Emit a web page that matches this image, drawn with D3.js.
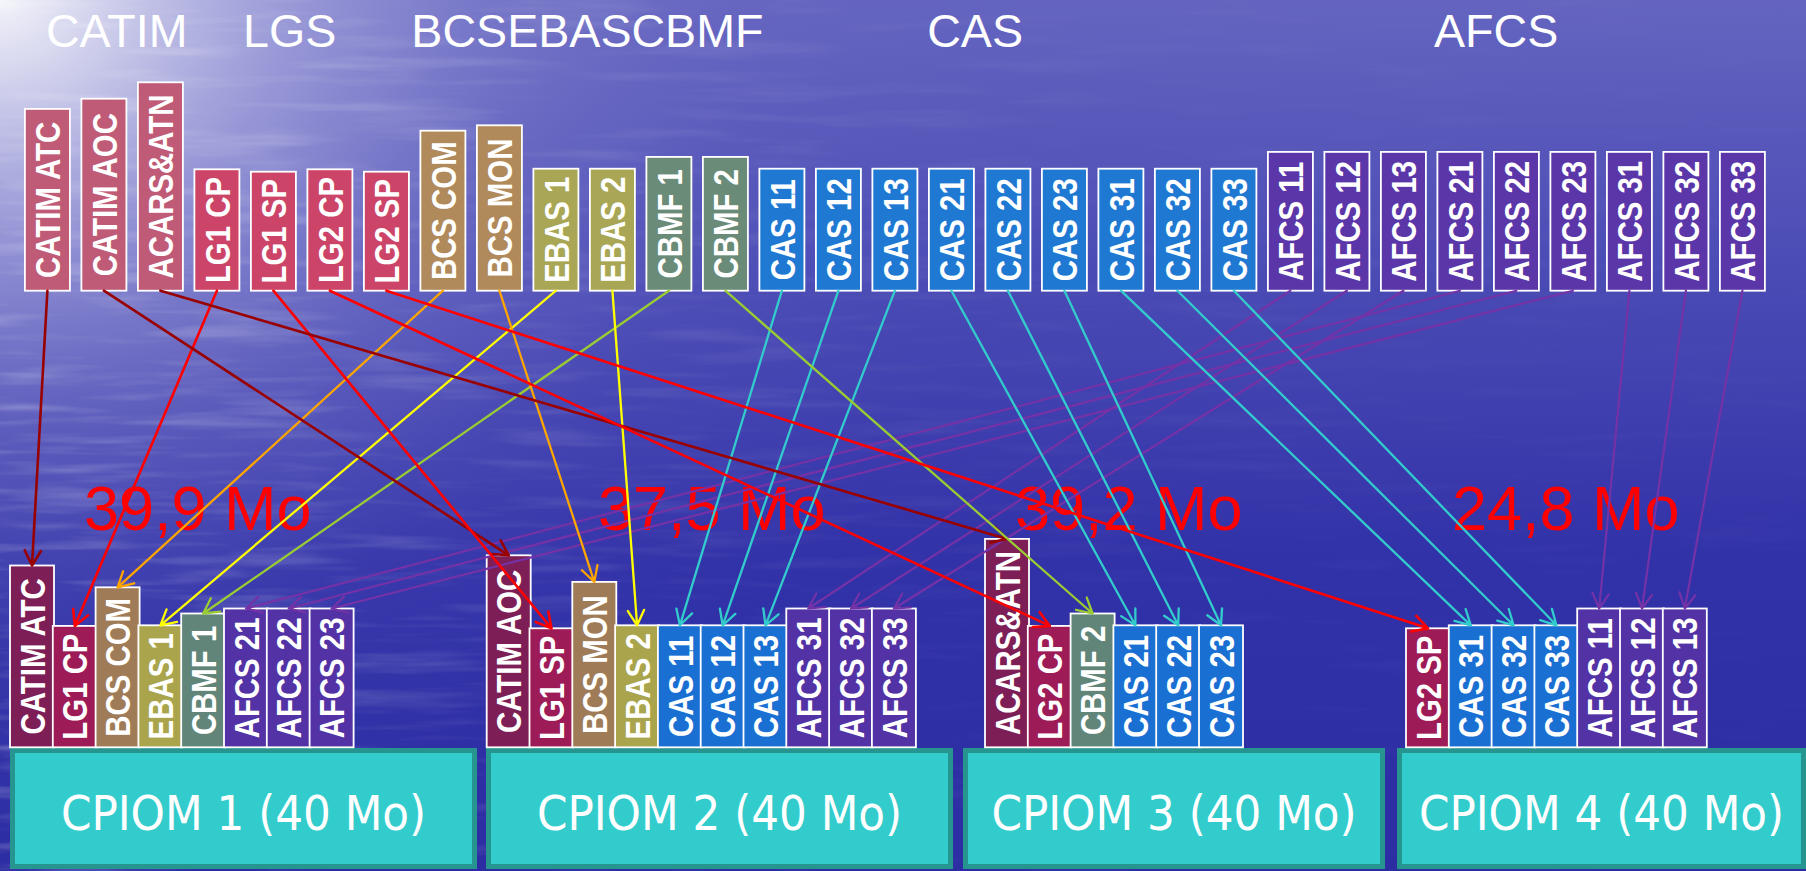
<!DOCTYPE html>
<html><head><meta charset="utf-8">
<script src="https://cdn.jsdelivr.net/npm/d3@7/dist/d3.min.js"></script>
<style>html,body{margin:0;padding:0;background:#2e2ea6;overflow:hidden}</style>
</head><body>
<svg id="c" width="1806" height="871"></svg>
<script>
// ---------------- DATA ----------------
const topBlocks = ["CATIM ATC","CATIM AOC","ACARS&ATN","LG1 CP","LG1 SP","LG2 CP","LG2 SP",
  "BCS COM","BCS MON","EBAS 1","EBAS 2","CBMF 1","CBMF 2",
  "CAS 11","CAS 12","CAS 13","CAS 21","CAS 22","CAS 23","CAS 31","CAS 32","CAS 33",
  "AFCS 11","AFCS 12","AFCS 13","AFCS 21","AFCS 22","AFCS 23","AFCS 31","AFCS 32","AFCS 33"];
const blockGroup = ["catim","catim","catim","lgs","lgs","lgs","lgs","bcs","bcs","ebas","ebas","cbmf","cbmf",
  "cas","cas","cas","cas","cas","cas","cas","cas","cas",
  "afcs","afcs","afcs","afcs","afcs","afcs","afcs","afcs","afcs"];
const blockSize = [9.09,9.6,10.42,6.07,5.95,6.07,5.95,8.0,8.27,6.1,6.1,6.69,6.69,
  6.1,6.1,6.1,6.1,6.1,6.1,6.1,6.1,6.1,
  6.94,6.94,6.94,6.94,6.94,6.94,6.94,6.94,6.94];
const groupTitles = ["CATIM","LGS","BCSEBASCBMF","CAS","AFCS"];
const titleSlot = [0.373, 3.86, 6.84, 15.97, 24.94];
const cpiomNames = ["CPIOM 1 (40 Mo)","CPIOM 2 (40 Mo)","CPIOM 3 (40 Mo)","CPIOM 4 (40 Mo)"];
const cpiomLoad = ["39,9 Mo","37,5 Mo","39,2 Mo","24,8 Mo"];
// blocks as labelled in each CPIOM stack
const cpiomBlocks = [
  ["CATIM ATC","LG1 CP","BCS COM","EBAS 1","CBMF 1","AFCS 21","AFCS 22","AFCS 23"],
  ["CATIM AOC","LG1 SP","BCS MON","EBAS 2","CAS 11","CAS 12","CAS 13","AFCS 31","AFCS 32","AFCS 33"],
  ["ACARS&ATN","LG2 CP","CBMF 2","CAS 21","CAS 22","CAS 23"],
  ["LG2 SP","CAS 31","CAS 32","CAS 33","AFCS 11","AFCS 12","AFCS 13"]
];
// top block each arrow comes from (same order as cpiomBlocks)
const cpiomSources = [
  ["CATIM ATC","LG1 CP","BCS COM","EBAS 1","CBMF 1","AFCS 21","AFCS 22","AFCS 23"],
  ["CATIM AOC","LG1 SP","BCS MON","EBAS 2","CAS 11","CAS 12","CAS 13","AFCS 11","AFCS 12","AFCS 13"],
  ["ACARS&ATN","LG2 CP","CBMF 2","CAS 21","CAS 22","CAS 23"],
  ["LG2 SP","CAS 31","CAS 32","CAS 33","AFCS 31","AFCS 32","AFCS 33"]
];

// ---------------- LAYOUT / STYLE ----------------
const L = {
  topX:[24.9,1764.9], topBase:290.7, hMax:208.4,
  botBase:747.3, slotStep:42.8, slotW:44,
  stackX:[10,486.7,985,1406],
  cpiomX:[[10,477],[486,953],[963,1385],[1397,1806]],
  cpiomTop:748, cpiomBottom:869,
  loadX:[84,598,1015,1452], loadY:530, titleY:46.7
};
const topFill = {catim:"#bf5b77",lgs:"#cc4569",bcs:"#b08a5a",ebas:"#a9a656",cbmf:"#6b8b79",cas:"#1f79d3",afcs:"#5b36a9"};
const botFill = {catim:"#7d1f56",lgs:"#9d1b56",bcs:"#9f7c57",ebas:"#aaa54c",cbmf:"#618579",cas:"#1a6fd3",afcs:"#5232a4"};
const arrowCol = {catim:"#990000",lgs:"#ff0000",bcs:"#ffa500",ebas:"#ffff00",cbmf:"#99cc33",cas:"#33cccc",afcs:"#7432a6"};
const arrowW = {catim:2.6,lgs:2.6,bcs:2.3,ebas:2.3,cbmf:2.3,cas:2.3,afcs:2.2};

const svg = d3.select("#c");
const W = 1806, H = 871;
const defs = svg.append("defs");

// background
const lg = defs.append("linearGradient").attr("id","bgv").attr("x1",0).attr("y1",0).attr("x2",0).attr("y2",1);
[[0,"#6464c0"],[0.3,"#4c4cb6"],[0.65,"#3131a8"],[1,"#2c2ca3"]].forEach(s=>lg.append("stop").attr("offset",s[0]).attr("stop-color",s[1]));
const rg = defs.append("radialGradient").attr("id","glow").attr("gradientUnits","userSpaceOnUse")
  .attr("cx",0).attr("cy",0).attr("r",1050).attr("gradientTransform","scale(1,0.85)");
[[0,"#f6f6fb",0.98],[0.1,"#dedef2",0.88],[0.28,"#b4b4e4",0.65],[0.48,"#9090d4",0.38],[0.72,"#7272c8",0.13],[1,"#6060c0",0]]
  .forEach(s=>rg.append("stop").attr("offset",s[0]).attr("stop-color",s[1]).attr("stop-opacity",s[2]));
const f = defs.append("filter").attr("id","ripple").attr("x",0).attr("y",0).attr("width",1).attr("height",1);
f.append("feTurbulence").attr("type","fractalNoise").attr("baseFrequency","0.006 0.07").attr("numOctaves",3).attr("seed",4);
f.append("feColorMatrix").attr("type","matrix").attr("values","0 0 0 0 1  0 0 0 0 1  0 0 0 0 1  3 0 0 0 -1.45");
const mg = defs.append("linearGradient").attr("id","mg").attr("x1",0).attr("y1",0).attr("x2",1).attr("y2",0);
[[0,"#fff"],[0.3,"#666"],[0.6,"#222"],[1,"#111"]].forEach(s=>mg.append("stop").attr("offset",s[0]).attr("stop-color",s[1]));
defs.append("mask").attr("id","rm").append("rect").attr("width",W).attr("height",H).attr("fill","url(#mg)");
svg.append("rect").attr("width",W).attr("height",H).attr("fill","url(#bgv)");
svg.append("rect").attr("width",W).attr("height",H).attr("fill","url(#glow)");
svg.append("g").attr("mask","url(#rm)").append("rect").attr("width",W).attr("height",H)
  .attr("filter","url(#ripple)").attr("opacity",0.22);

// scales
const x = d3.scaleBand().domain(topBlocks).range(L.topX).paddingInner(0.2035).paddingOuter(0);
const h = d3.scaleLinear().domain([0,d3.max(blockSize)]).range([0,L.hMax]);
const topSlot = d3.scaleLinear().domain([0,1]).range([L.topX[0], L.topX[0]+x.step()]);
const slot = d3.scaleLinear().domain([0,1]).range([0,L.slotStep]);
const sizeOf = new Map(topBlocks.map((b,i)=>[b,blockSize[i]]));
const groupOf = new Map(topBlocks.map((b,i)=>[b,blockGroup[i]]));

const labelFont = "'Liberation Sans', Arial, sans-serif";

// group titles
svg.append("g").selectAll("text").data(groupTitles).join("text")
  .attr("x",(d,i)=>topSlot(titleSlot[i])).attr("y",L.titleY)
  .attr("fill","#fff").attr("font-family",labelFont).attr("font-size",46.6).text(d=>d);

function drawBlock(g, name, x0, w, base, fillMap){
  const hh = h(sizeOf.get(name));
  g.append("rect").attr("x",x0).attr("y",base-hh).attr("width",w).attr("height",hh)
    .attr("fill",fillMap[groupOf.get(name)]).attr("stroke","#fff").attr("stroke-width",1.8);
  g.append("text")
    .attr("transform",`translate(${x0+w/2},${base-hh/2}) rotate(-90) scale(0.84,1)`)
    .attr("text-anchor","middle").attr("dy","0.36em")
    .attr("fill","#fff").attr("font-family",labelFont).attr("font-weight","bold").attr("font-size",35)
    .text(name);
}

// top row
const gTop = svg.append("g");
topBlocks.forEach(b=>drawBlock(gTop,b,x(b),x.bandwidth(),L.topBase,topFill));

// load values
svg.append("g").selectAll("text").data(cpiomLoad).join("text")
  .attr("x",(d,i)=>L.loadX[i]).attr("y",L.loadY)
  .attr("fill","#ff0000").attr("font-family",labelFont).attr("font-size",63).text(d=>d);

// CPIOM boxes
const gC = svg.append("g");
cpiomNames.forEach((n,i)=>{
  const [a,b] = L.cpiomX[i];
  gC.append("rect").attr("x",a+2.5).attr("y",L.cpiomTop+2.5).attr("width",b-a-5).attr("height",L.cpiomBottom-L.cpiomTop-5)
    .attr("fill","#33cccc").attr("stroke","#27958f").attr("stroke-width",5);
  gC.append("text").attr("transform",`translate(${(a+b)/2},830) scale(0.91,1)`)
    .attr("text-anchor","middle").attr("fill","#fff")
    .attr("font-family","'DejaVu Sans', Verdana, sans-serif").attr("font-size",48).text(n);
});

// bottom stacks
const nodes = [];
cpiomBlocks.forEach((arr,i)=>arr.forEach((b,j)=>nodes.push({name:b,src:cpiomSources[i][j],x0:L.stackX[i]+slot(j)})));
const gBot = svg.append("g");
nodes.forEach(nd=>drawBlock(gBot,nd.name,nd.x0,L.slotW,L.botBase,botFill));

// arrows
const gA = svg.append("g").attr("fill","none").attr("stroke-linecap","round").attr("stroke-linejoin","round");
nodes.forEach(nd=>{
  const g = groupOf.get(nd.src);
  const x1 = x(nd.src)+x.bandwidth()/2, y1 = L.topBase;
  const x2 = nd.x0+L.slotW/2, y2 = L.botBase-h(sizeOf.get(nd.name));
  const a = Math.atan2(y2-y1,x2-x1), len=17, sp=0.5;
  const p = d3.path();
  p.moveTo(x1,y1); p.lineTo(x2,y2);
  p.moveTo(x2-len*Math.cos(a-sp), y2-len*Math.sin(a-sp)); p.lineTo(x2,y2);
  p.lineTo(x2-len*Math.cos(a+sp), y2-len*Math.sin(a+sp));
  gA.append("path").attr("d",p.toString()).attr("stroke",arrowCol[g]).attr("stroke-width",arrowW[g]);
});
</script>
</body></html>
